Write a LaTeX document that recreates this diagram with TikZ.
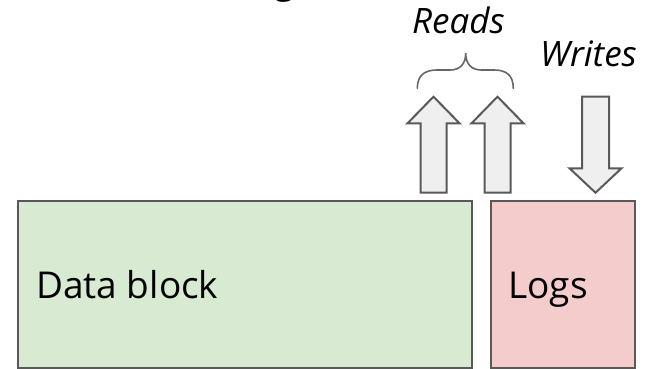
\documentclass[tikz,border=0pt]{standalone}
\usepackage{fontspec}
\setmainfont{Open Sans}
\definecolor{datafill}{HTML}{D9EAD3}
\definecolor{logfill}{HTML}{F4CCCC}
\definecolor{edgegray}{HTML}{595959}
\definecolor{arrowfill}{HTML}{EFEFEF}
\definecolor{bracegray}{HTML}{666666}
\tikzset{
  block/.style={draw=edgegray, line width=2pt},
  label/.style={inner sep=0pt, font=\fontsize{37}{44}\selectfont, text=black},
  ilabel/.style={inner sep=0pt, font=\fontsize{35}{42}\selectfont\itshape, text=black},
  fatarrow/.style={draw=edgegray, fill=arrowfill, line width=2pt, line join=miter},
  bracestroke/.style={draw=bracegray, line width=1.6pt, line cap=round},
}
\begin{document}
\begin{tikzpicture}[x=1pt, y=-1pt]
\useasboundingbox (0,0) rectangle (650,369);
% title fragment (cut off at top)
\begin{scope}
\clip (0,0) rectangle (650,369);
\node[label, anchor=base] (title) at (285,-6.8) {g};
\end{scope}
% blocks
\path[block, fill=datafill] (17.5,201) rectangle (471.5,367.8);
\path[block, fill=logfill] (490.5,201) rectangle (635,367.8);
\node[label, anchor=base west] (data) at (36,298) {Data block};
\node[label, anchor=base west] (logs) at (508,298) {Logs};
% read arrows
\path[fatarrow] (420.5,192.7) -- (420.5,123.3) -- (407.5,123.3) -- (433.5,96.7)
  -- (459.5,123.3) -- (446.5,123.3) -- (446.5,192.7) -- cycle;
\path[fatarrow] (484.5,192.7) -- (484.5,123.3) -- (471.5,123.3) -- (497.5,96.7)
  -- (523.5,123.3) -- (510.5,123.3) -- (510.5,192.7) -- cycle;
% write arrow
\path[fatarrow] (582,96.7) -- (609,96.7) -- (609,168.3) -- (621.5,168.3)
  -- (595.5,192.7) -- (569.5,168.3) -- (582,168.3) -- cycle;
% brace
\path[bracestroke] (417.3,88.3) .. controls (417.3,75) and (425,70) .. (437,70)
  -- (450,70) .. controls (460,70) and (465.7,64) .. (465.7,53.3)
  .. controls (465.7,64) and (471.5,70) .. (481.5,70)
  -- (494,70) .. controls (506,70) and (513.3,75) .. (513.3,88.3);
% labels
\node[ilabel, anchor=base west] (reads) at (412,33.3) {Reads};
\node[ilabel, anchor=base west] (writes) at (540,66.7) {Writes};
\end{tikzpicture}
\end{document}
